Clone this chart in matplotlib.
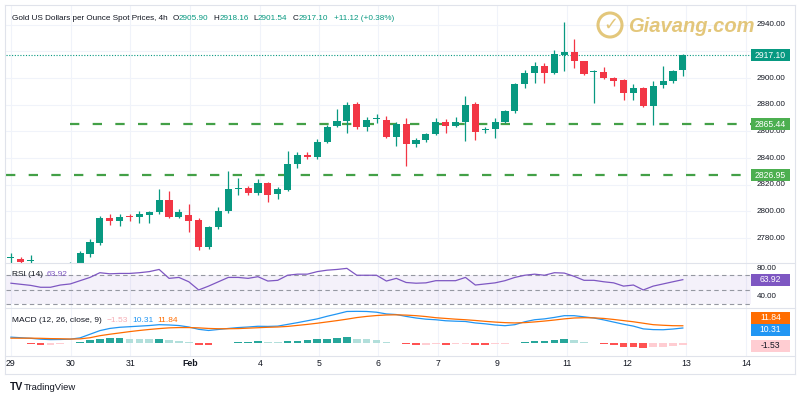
# Gold spot 4h chart (TradingView-style) redrawn with matplotlib.
import numpy as np
import matplotlib
matplotlib.use("Agg")
import matplotlib.pyplot as plt
from matplotlib.patches import Rectangle, Ellipse

W, H = 800, 400
plt.rcParams["font.family"] = ["Liberation Sans", "DejaVu Sans"]

# ---- values: 4h candles, 29 Jan -> 13 Feb ----
opens = [2765, 2764, 2763, 2758, 2755, 2752, 2758, 2758, 2768, 2776,
         2795, 2793, 2796, 2796, 2797, 2799.5, 2808.5, 2796, 2797, 2793.5,
         2773, 2788, 2800, 2817, 2817.5, 2813.5, 2821, 2813, 2816, 2835.5,
         2842, 2840.5, 2852, 2864, 2867.5, 2880.5, 2863, 2869, 2868.5, 2856,
         2865.5, 2850.5, 2853.5, 2858, 2867, 2864, 2867, 2880.5, 2861, 2861.5,
         2867, 2875, 2895.5, 2904, 2909, 2904, 2917.5, 2919.5, 2912.5, 2904.5,
         2904.5, 2900, 2898.5, 2889, 2892.5, 2879, 2894.5, 2897.5, 2905.90]
highs = [2769, 2766, 2767, 2760, 2759, 2761, 2762, 2770, 2779, 2796.5,
         2798, 2798, 2798, 2800, 2800, 2816.7, 2815, 2801.7, 2805.5, 2795,
         2789, 2803, 2830, 2825, 2819, 2824, 2822, 2818, 2845, 2844.5,
         2844.5, 2854, 2865, 2876.7, 2882, 2882, 2871, 2873, 2871.5, 2867,
         2870, 2855, 2859, 2870, 2869, 2870.7, 2886.5, 2882, 2863, 2870,
         2876, 2896, 2906, 2912, 2911, 2921, 2942, 2929, 2913, 2906,
         2908, 2901, 2899, 2895.5, 2893, 2897.7, 2909, 2906, 2918.16]
lows = [2758, 2758, 2755, 2750, 2748, 2749, 2754, 2756, 2766, 2775,
        2790, 2789, 2793, 2791, 2791, 2798, 2795, 2795, 2784.5, 2771,
        2772, 2787, 2799, 2812, 2812, 2812, 2807, 2809, 2815, 2832.5,
        2839, 2839, 2851, 2863, 2858.75, 2862, 2860, 2866, 2855, 2849,
        2834, 2848, 2852, 2857, 2859, 2863, 2852.7, 2853.5, 2859, 2855,
        2866, 2874, 2892.5, 2896, 2896, 2903, 2905, 2907.5, 2902, 2881,
        2899, 2894, 2883.5, 2883.5, 2878, 2864.75, 2892.5, 2896, 2901.54]
closes = [2766, 2762, 2763.5, 2755, 2752, 2758, 2760, 2769, 2777, 2795,
          2793, 2796, 2795.5, 2798, 2799.5, 2808.5, 2796, 2799.5, 2793, 2773,
          2788, 2800, 2816.5, 2817.5, 2813.5, 2821, 2812, 2816.5, 2835.5, 2842,
          2840.5, 2852, 2863, 2867.5, 2880, 2863, 2868.5, 2869.5, 2856, 2865.5,
          2850.5, 2853.5, 2858, 2867, 2864, 2867, 2880, 2859.5, 2861.3, 2867,
          2875, 2895.5, 2904, 2909, 2904, 2918, 2919.5, 2913, 2903, 2904.8,
          2900, 2898, 2889, 2892.5, 2879, 2894, 2897.5, 2905, 2917.10]

rsi = [59, 57.5, 56, 53.4, 53.4, 56.5, 58, 62.5, 67, 73.5,
       72, 72.5, 72.5, 73.5, 75, 78, 65.7, 67, 61, 49.7,
       55, 61, 67, 67, 65.7, 68, 62, 63, 70, 71.5,
       71.5, 75, 77, 78, 79.5, 70, 70, 70, 62, 65.7,
       60, 59, 59.5, 62.5, 62.5, 62.5, 67, 56.5, 58, 59.5,
       62.5, 67, 70, 71.5, 70, 73.5, 73, 68.5, 63, 63,
       61, 59.5, 55, 56.5, 49.7, 55, 58, 61, 63.92]

macd = [4.0, 3.6, 3.2, 2.6, 2.3, 2.4, 2.6, 3.5, 6.0, 8.5,
        10.0, 10.8, 11.2, 11.6, 12.0, 12.6, 12.4, 12.0, 11.0, 9.4,
        8.6, 9.3, 10.0, 10.6, 11.0, 11.5, 11.4, 11.6, 12.8, 14.0,
        15.3, 16.6, 18.4, 20.0, 21.7, 21.8, 21.7, 21.2, 20.0, 19.6,
        18.3, 17.2, 16.4, 16.0, 15.3, 15.0, 14.8, 13.8, 13.2, 12.4,
        11.9, 12.6, 14.6, 16.0, 16.6, 17.6, 18.8, 18.8, 18.0, 17.2,
        15.9, 14.4, 12.9, 11.6, 9.7, 9.2, 9.1, 9.6, 10.31]
signal = [3.3, 3.3, 3.3, 3.2, 3.0, 2.9, 2.7, 2.8, 3.6, 5.0,
          6.0, 6.9, 7.8, 8.6, 9.3, 9.9, 10.4, 10.6, 10.6, 10.4,
          10.0, 9.8, 9.8, 9.9, 10.2, 10.5, 10.8, 11.0, 11.4, 12.1,
          12.8, 13.6, 14.5, 15.4, 16.4, 17.5, 18.3, 18.9, 19.3, 19.4,
          19.2, 18.8, 18.2, 17.4, 16.9, 16.4, 16.0, 15.5, 14.9, 14.4,
          14.0, 13.8, 14.0, 14.5, 15.1, 15.8, 16.6, 17.2, 17.4, 17.3,
          16.9, 16.2, 15.4, 14.6, 13.6, 12.6, 12.2, 11.9, 11.84]
hist = [-0.3, -0.3, -0.4, -1.2, -1.2, -0.5, -0.1, 0.7, 2.0, 2.6,
        3.1, 3.2, 2.6, 2.55, 2.5, 2.8, 2.0, 1.2, 0.5, -1.2,
        -1.4, -0.3, 0.3, 0.7, 0.8, 1.0, 0.7, 0.5, 1.2, 1.5,
        2.0, 2.5, 3.0, 3.3, 4.0, 2.9, 2.4, 1.8, 0.5, 0.1,
        -0.8, -1.4, -1.4, -0.7, -1.1, -0.8, -0.4, -1.2, -1.25, -0.8,
        -0.5, -0.1, 0.5, 1.3, 1.35, 1.8, 2.4, 1.8, 0.5, 0.05,
        -0.5, -1.4, -2.5, -2.6, -3.4, -2.9, -2.5, -2.0, -1.53]

day_labels = ["29", "30", "31", "Feb", "4", "5", "6", "7", "9", "11", "12", "13", "14"]
day_pos = [0, 6.07, 12.1, 18.1, 25.2, 31.2, 37.1, 43.2, 49.2, 56.3, 62.4, 68.3, 74.4]
price_ticks = [2780, 2800, 2820, 2840, 2860, 2880, 2900, 2920, 2940]
levels = [2865.44, 2826.95]
level_start = [6, -0.5]

UP, DOWN = "#089981", "#F23645"
TXT = "#131722"
GRID = "#F0F3FA"
BORDER = "#E0E3EB"
PURPLE = "#7E57C2"
BLUE, ORANGE = "#2196F3", "#FF6D00"
LEVEL_GREEN = "#43A047"
GOLD = "#DDB95A"
XLO, XHI = -0.5, 74.9

fig = plt.figure(figsize=(W / 100, H / 100), dpi=100, facecolor="white")


def fx(x):
    return x / W


def fy(y):
    return 1 - y / H


def add_panel(y0, y1, x0=6, x1=751):
    ax = fig.add_axes([fx(x0), fy(y1), (x1 - x0) / W, (y1 - y0) / H])
    ax.set_facecolor("none")
    for s in ax.spines.values():
        s.set_visible(False)
    ax.set_xticks([])
    ax.set_yticks([])
    ax.set_xlim(XLO, XHI)
    for p in day_pos:
        ax.axvline(p, color=GRID, lw=0.8, zorder=0)
    return ax


def axis_label(ax, value, text, size=5.8):
    ax.text(1 + 6 / 745, value, text, transform=ax.get_yaxis_transform(),
            ha="left", va="center", fontsize=size, color=TXT, clip_on=False)


def value_box(ax, value, text, fc, tc="white", ypix=None):
    if ypix is None:
        yd = ax.transData.transform((0, value))[1]
    else:
        yd = H - ypix
    fig.patches.append(Rectangle((fx(751), (yd - 6) / H), 39 / W, 12 / H,
                                 transform=fig.transFigure, fc=fc, ec="none",
                                 zorder=5))
    fig.text(fx(770.5), yd / H, text, ha="center", va="center", fontsize=6.2,
             color=tc, zorder=6)


def text_run(x, y, parts, size):
    r = fig.canvas.get_renderer()
    for s, color, gap in parts:
        t = fig.text(fx(x), fy(y), s, color=color, fontsize=size,
                     va="center", ha="left")
        x += t.get_window_extent(renderer=r).width + gap


idx = np.arange(len(closes))
o, h, l, c = map(np.asarray, (opens, highs, lows, closes))

# ---- price panel ----
main = add_panel(5, 263)
main.set_ylim(2761.25, 2954.75)
for p in price_ticks:
    main.axhline(p, color=GRID, lw=0.8, zorder=0)
col = np.where(c >= o, UP, DOWN)
main.vlines(idx, l, h, colors=col, lw=0.9, zorder=2)
main.bar(idx, np.maximum(np.abs(c - o), 0.7), bottom=np.minimum(o, c),
         width=0.72, color=col, linewidth=0, zorder=3)
for lv, st in zip(levels, level_start):
    main.hlines(lv, st, XHI, colors=LEVEL_GREEN, lw=1.6,
                linestyles=(0, (4.2, 6.0)), zorder=1)
main.axhline(closes[-1], color=UP, lw=0.8, ls=(0, (1, 1.5)), zorder=1)
boxed = [closes[-1]] + levels
for p in price_ticks:
    # the scale hides a tick label that sits right under a value box
    if min(abs(p - b) for b in boxed) < 4:
        continue
    axis_label(main, p, f"{p:.2f}")
value_box(main, closes[-1], f"{closes[-1]:.2f}", UP)
for lv in levels:
    value_box(main, lv, f"{lv:.2f}", "#4CAF50")

# ---- RSI panel ----
rax = add_panel(263, 308)
rax.set_ylim(24.8, 86.9)
rax.axhspan(30, 70, color=PURPLE, alpha=0.08, lw=0, zorder=0)
for lv in (70, 50, 30):
    rax.axhline(lv, color="#9598A1", lw=0.8, ls=(0, (4, 3)), zorder=1)
rax.plot(idx, rsi, color=PURPLE, lw=0.9, zorder=3)
axis_label(rax, 80, "80.00")
axis_label(rax, 40, "40.00")
value_box(rax, rsi[-1], f"{rsi[-1]:.2f}", PURPLE)

# ---- MACD panel ----
max_ = add_panel(308, 356)
max_.set_ylim(-9.0, 24.1)
hcol = []
for k, v in enumerate(hist):
    prev = hist[k - 1] if k else v
    if v >= 0:
        hcol.append("#26A69A" if v > prev else "#B2DFDB")
    else:
        hcol.append("#FF5252" if v < prev else "#FFCDD2")
max_.bar(idx, hist, width=0.78, color=hcol, linewidth=0, zorder=2)
max_.plot(idx, macd, color=BLUE, lw=0.9, zorder=3)
max_.plot(idx, signal, color=ORANGE, lw=0.9, zorder=3)
value_box(max_, signal[-1], f"{signal[-1]:.2f}", ORANGE, ypix=318)
value_box(max_, macd[-1], f"{macd[-1]:.2f}", BLUE, ypix=330)
value_box(max_, hist[-1], f"{hist[-1]:.2f}", "#FFCDD2", tc=TXT, ypix=346)

# ---- legends ----
text_run(12, 18, [("Gold US Dollars per Ounce Spot Prices, 4h", TXT, 5),
                  ("O", TXT, 0), ("2905.90", UP, 5),
                  ("H", TXT, 0), ("2918.16", UP, 5),
                  ("L", TXT, 0), ("2901.54", UP, 5),
                  ("C", TXT, 0), ("2917.10", UP, 6),
                  ("+11.12 (+0.38%)", UP, 0)], 5.9)
text_run(12, 275, [("RSI (14)", TXT, 4), ("63.92", PURPLE, 0)], 6.0)
text_run(12, 320, [("MACD (12, 26, close, 9)", TXT, 5),
                   ("\u22121.53", "#F5AEB6", 4),
                   ("10.31", BLUE, 4), ("11.84", ORANGE, 0)], 6.0)

# ---- time axis ----
for lab, p in zip(day_labels, day_pos):
    xd = main.transData.transform((p, 0))[0]
    fig.text(xd / W, fy(364), lab, ha="center", va="center", fontsize=6.3,
             color=TXT, fontweight="bold" if lab == "Feb" else "normal")

# ---- frame lines ----
for yy in (5, 263, 308, 356, 374):
    fig.add_artist(plt.Line2D([fx(5), fx(795)], [fy(yy), fy(yy)], color=BORDER,
                              lw=0.8, transform=fig.transFigure))
for xx in (5, 795):
    fig.add_artist(plt.Line2D([fx(xx), fx(xx)], [fy(5), fy(374)], color=BORDER,
                              lw=0.8, transform=fig.transFigure))

# ---- watermark (round badge + wordmark) ----
fig.add_artist(Ellipse((fx(610), fy(25)), 24 / W, 24 / H, transform=fig.transFigure,
                       fill=False, ec=GOLD, lw=2.2, alpha=0.8, zorder=7))
fig.text(fx(611), fy(25), "\u2713", ha="center", va="center", fontsize=13,
         color=GOLD, alpha=0.8, zorder=7, family="DejaVu Sans")
fig.text(fx(628), fy(26), "Giavang.com", ha="left", va="center", fontsize=14.5,
         fontweight="bold", fontstyle="italic", color=GOLD, alpha=0.8, zorder=7)

# ---- TradingView mark ----
fig.text(fx(10), fy(387), "TV", ha="left", va="center", fontsize=7.5,
         fontweight="bold", color=TXT)
fig.text(fx(24), fy(387), "TradingView", ha="left", va="center", fontsize=6.8,
         color=TXT)

fig.savefig("out.png", dpi=100, facecolor="white")
